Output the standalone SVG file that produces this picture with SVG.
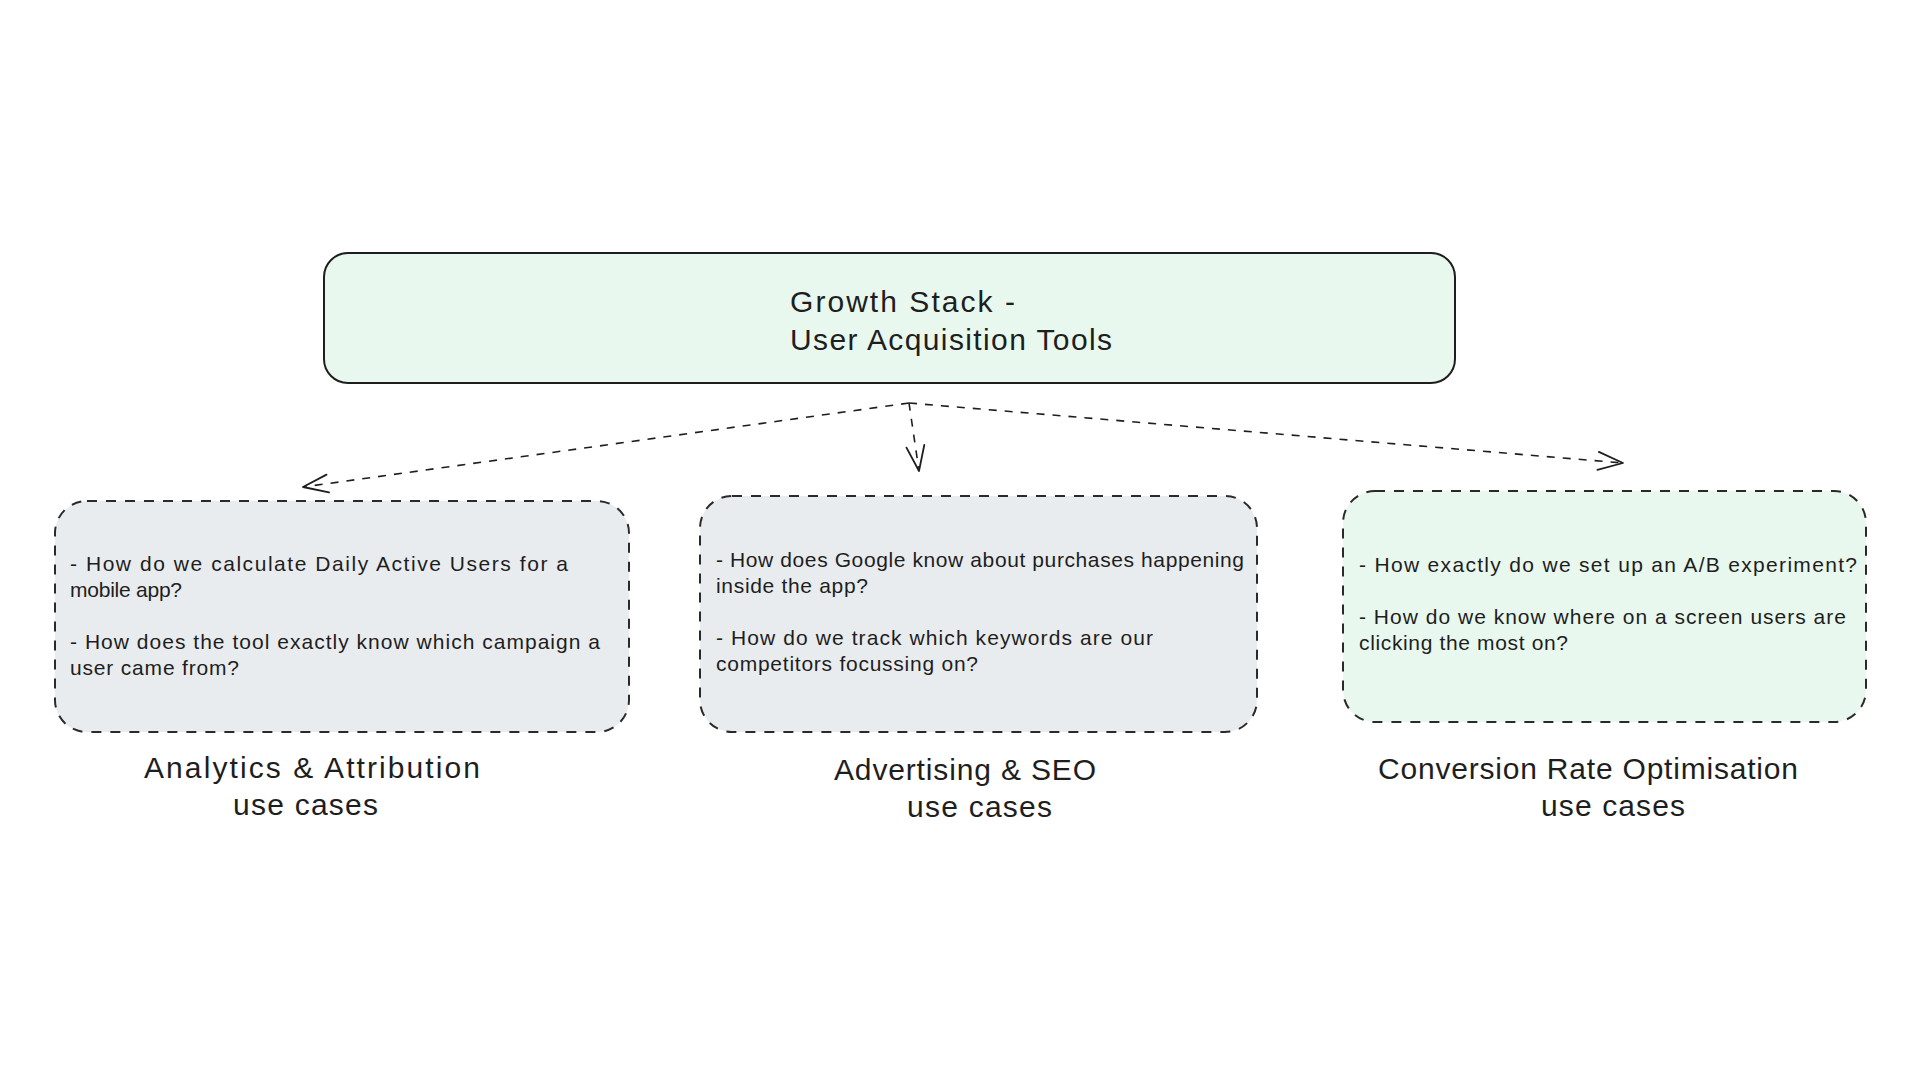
<svg xmlns="http://www.w3.org/2000/svg" width="1920" height="1080" viewBox="0 0 1920 1080">
<style>
.bg{fill:#ffffff}
.top{fill:#e9f8ee;stroke:#1e1e1e;stroke-width:2}
.gray{fill:#e9ecef;stroke:#2a2a2a;stroke-width:2;stroke-dasharray:10 9}
.green{fill:#e9f8ee;stroke:#2a2a2a;stroke-width:2;stroke-dasharray:10 9}
.t{font-family:"Liberation Sans","Noto Sans",sans-serif;fill:#1e1e1e}
.body{font-size:21px}
.title{font-size:30px}
.lab{font-size:30px}
.conn{fill:none;stroke:#1e1e1e;stroke-width:1.6;stroke-dasharray:8 8}
.head{fill:none;stroke:#1e1e1e;stroke-width:1.8;stroke-linecap:round;stroke-linejoin:round}
</style>
<defs>
<marker id="arr" markerUnits="userSpaceOnUse" markerWidth="32" markerHeight="24" viewBox="0 0 32 24" refX="29" refY="12" orient="auto">
<path class="head" d="M4,3 L29,12 L4,21"/>
</marker>
</defs>
<rect class="bg" x="0" y="0" width="1920" height="1080"/>

<g id="growth-stack">
<rect class="top" x="324" y="253" width="1131" height="130" rx="24"/>
<text class="t title" x="790" y="312" textLength="225" lengthAdjust="spacing">Growth Stack -</text>
<text class="t title" x="790" y="350" textLength="322" lengthAdjust="spacing">User Acquisition Tools</text>
</g>

<g id="analytics">
<rect class="gray" x="55" y="501" width="574" height="231" rx="32"/>
<text class="t body" x="70" y="571" textLength="498" lengthAdjust="spacing">- How do we calculate Daily Active Users for a</text>
<text class="t body" x="70" y="597" textLength="112" lengthAdjust="spacing">mobile app?</text>
<text class="t body" x="70" y="649" textLength="530" lengthAdjust="spacing">- How does the tool exactly know which campaign a</text>
<text class="t body" x="70" y="675" textLength="169" lengthAdjust="spacing">user came from?</text>
<text class="t lab" x="144" y="778" textLength="336" lengthAdjust="spacing">Analytics &amp; Attribution</text>
<text class="t lab" x="233" y="815" textLength="145" lengthAdjust="spacing">use cases</text>
</g>

<g id="advertising">
<rect class="gray" x="700" y="496" width="557" height="236" rx="32"/>
<text class="t body" x="716" y="567" textLength="528" lengthAdjust="spacing">- How does Google know about purchases happening</text>
<text class="t body" x="716" y="593" textLength="152" lengthAdjust="spacing">inside the app?</text>
<text class="t body" x="716" y="645" textLength="437" lengthAdjust="spacing">- How do we track which keywords are our</text>
<text class="t body" x="716" y="671" textLength="262" lengthAdjust="spacing">competitors focussing on?</text>
<text class="t lab" x="834" y="780" textLength="262" lengthAdjust="spacing">Advertising &amp; SEO</text>
<text class="t lab" x="907" y="817" textLength="145" lengthAdjust="spacing">use cases</text>
</g>

<g id="cro">
<rect class="green" x="1343" y="491" width="523" height="231" rx="32"/>
<text class="t body" x="1359" y="572" textLength="498" lengthAdjust="spacing">- How exactly do we set up an A/B experiment?</text>
<text class="t body" x="1359" y="624" textLength="487" lengthAdjust="spacing">- How do we know where on a screen users are</text>
<text class="t body" x="1359" y="650" textLength="209" lengthAdjust="spacing">clicking the most on?</text>
<text class="t lab" x="1378" y="779" textLength="420" lengthAdjust="spacing">Conversion Rate Optimisation</text>
<text class="t lab" x="1541" y="816" textLength="144" lengthAdjust="spacing">use cases</text>
</g>

<g id="connectors">
<path class="conn" d="M909,403 L303,487" marker-end="url(#arr)"/>
<path class="conn" d="M909,403 Q913,430 919,471" marker-end="url(#arr)"/>
<path class="conn" d="M909,403 L1623,463" marker-end="url(#arr)"/>
</g>
</svg>
